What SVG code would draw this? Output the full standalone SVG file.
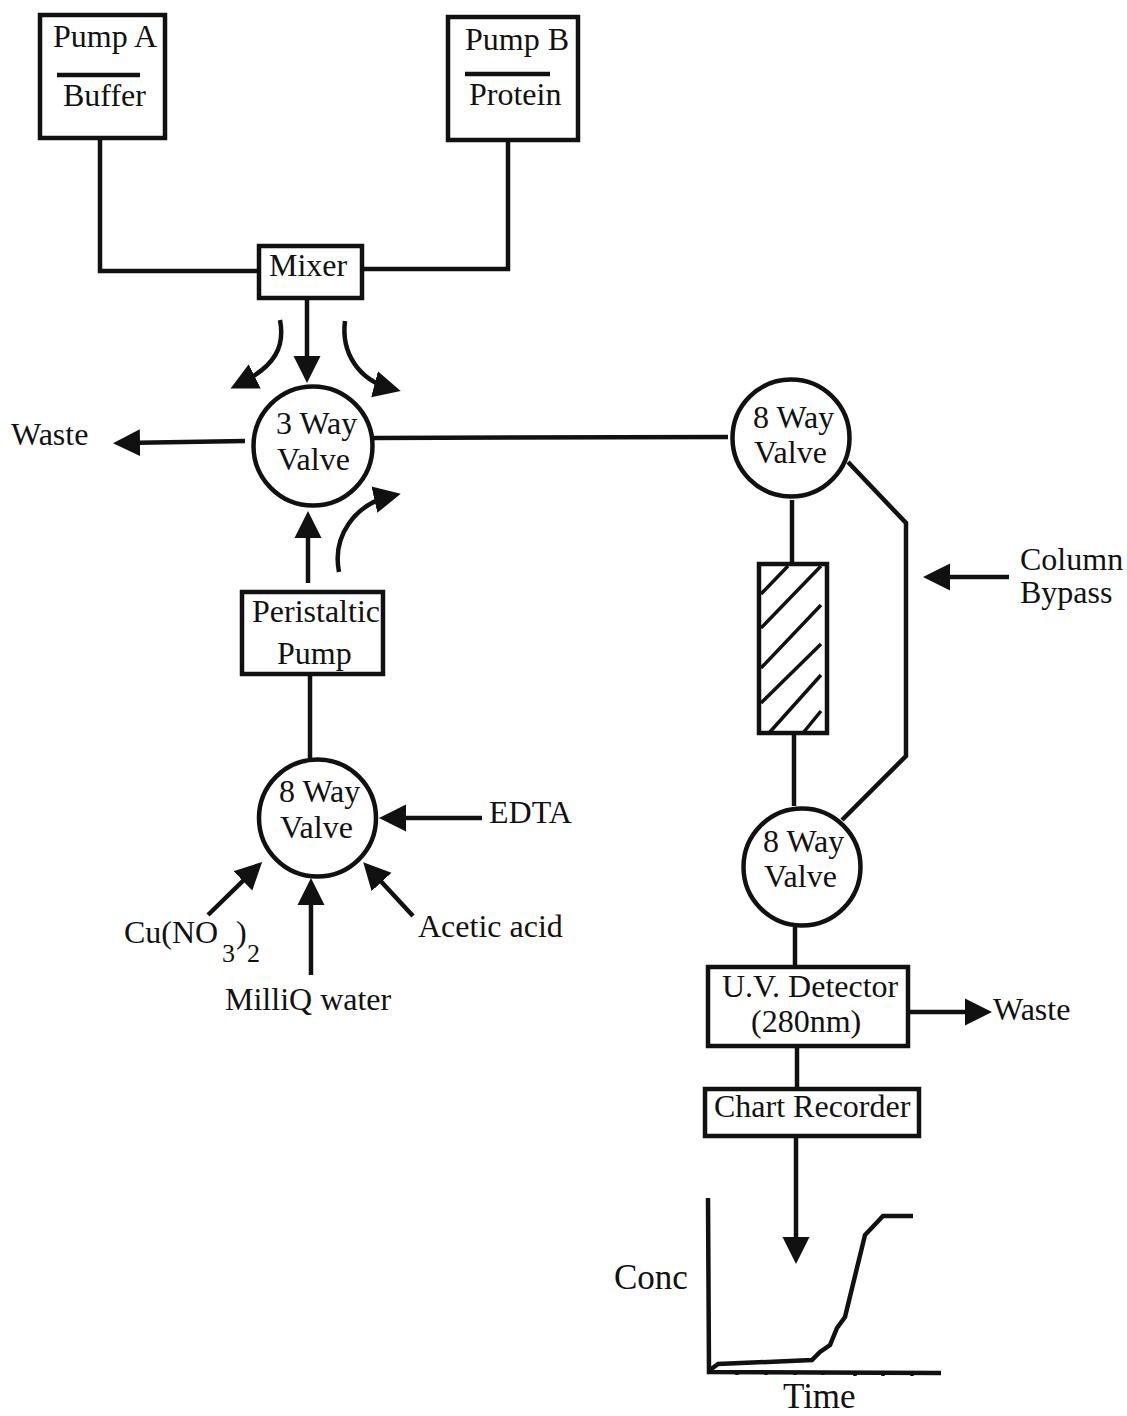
<svg xmlns="http://www.w3.org/2000/svg" width="1127" height="1416" viewBox="0 0 1127 1416">
<style>
text{font-family:"Liberation Serif","Times New Roman",serif;font-size:32px;fill:#111}
.n{fill:#fff;stroke:#111;stroke-width:4.5}
.c{fill:none;stroke:#111;stroke-width:4.5;stroke-linejoin:miter}
.a{marker-end:url(#arrow)}
.t{fill:none;stroke:#111;stroke-width:3.5}
.s{font-size:26px}
.l{font-size:35px}
</style>
<defs>
<marker id="arrow" markerUnits="userSpaceOnUse" markerWidth="30" markerHeight="30" refX="17" refY="14" orient="auto" viewBox="0 0 30 28">
<path d="M0 0.5L27 14L0 27.5Z" fill="#111"/>
</marker>
</defs>
<rect width="1127" height="1416" fill="#fff"/>
<g id="connectors">
<path class="c" d="M100 138V271H259"/>
<path class="c" d="M508 140V269H362"/>
<path class="c a" d="M307 298V373"/>
<path class="c a" d="M280 320C285 346 276 366 239.500 384"/>
<path class="c a" d="M345 321C341 352 358 380 391 388.500"/>
<path class="c a" d="M339 572C332 536 355 504 391 496"/>
<path class="c a" d="M245 441L123 443"/>
<path class="c" d="M372 438L728 437"/>
<path class="c a" d="M308 583V521"/>
<path class="c" d="M310 674V758"/>
<path class="c a" d="M482 818H389"/>
<path class="c a" d="M208 915L255 869"/>
<path class="c a" d="M311 975V888"/>
<path class="c a" d="M413 916L370 869.500"/>
<path class="c" d="M848 462L906 523V756L842 820"/>
<path class="c" d="M792 500V564"/>
<path class="c" d="M794 734V806"/>
<path class="c a" d="M1009 577H933"/>
<path class="c" d="M795 926V967"/>
<path class="c a" d="M908 1012H982"/>
<path class="c" d="M797 1046V1089"/>
<path class="c a" d="M796 1136V1254"/>
</g>
<g id="pump-a"><rect class="n" x="40" y="15" width="125" height="123"/><path class="c" d="M57 75H140"/><text x="53" y="47">Pump A</text><text x="63" y="106">Buffer</text></g>
<g id="pump-b"><rect class="n" x="448" y="17" width="130" height="123"/><path class="c" d="M465 74H550"/><text x="465" y="50">Pump B</text><text x="469" y="105">Protein</text></g>
<g id="mixer"><rect class="n" x="259" y="246" width="103" height="52"/><text x="269" y="276">Mixer</text></g>
<g id="valve-3way"><circle class="n" cx="313" cy="446" r="59.500"/><text x="276" y="434">3 Way</text><text x="277" y="470">Valve</text></g>
<g id="waste-left"><text x="11" y="445">Waste</text></g>
<g id="valve-8way-top"><circle class="n" cx="791" cy="438" r="58.500"/><text x="753" y="428">8 Way</text><text x="754" y="463">Valve</text></g>
<g id="column"><rect class="n" x="759" y="564" width="68" height="169"/>
<path class="t" d="M761 594L788 566M761 628L821 566M761 668L821 605M761 703L821 644M769 733L821 675M803 733L821 711"/></g>
<g id="column-bypass"><text x="1020" y="570">Column</text><text x="1020" y="603">Bypass</text></g>
<g id="peristaltic"><rect class="n" x="242" y="592" width="141" height="82"/><text x="252" y="622">Peristaltic</text><text x="277" y="664">Pump</text></g>
<g id="valve-8way-left"><circle class="n" cx="317.500" cy="818" r="58.500"/><text x="279" y="802">8 Way</text><text x="280" y="838">Valve</text></g>
<g id="edta"><text x="489" y="823">EDTA</text></g>
<g id="acetic"><text x="418" y="937">Acetic acid</text></g>
<g id="cu"><text x="124" y="943">Cu(NO</text><text x="222" y="962" class="s">3</text><text x="236" y="943">)</text><text x="247" y="962" class="s">2</text></g>
<g id="milliq"><text x="225" y="1010">MilliQ water</text></g>
<g id="valve-8way-low"><circle class="n" cx="802" cy="867" r="58.500"/><text x="763" y="852">8 Way</text><text x="764" y="887">Valve</text></g>
<g id="uv"><rect class="n" x="708" y="967" width="200" height="79"/><text x="722" y="997">U.V. Detector</text><text x="751" y="1032">(280nm)</text></g>
<g id="waste-right"><text x="993" y="1020">Waste</text></g>
<g id="chart"><rect class="n" x="705" y="1089" width="214" height="47"/><text x="714" y="1117">Chart Recorder</text></g>
<g id="plot">
<path class="c" d="M708 1198L709 1372L941 1373"/>
<path class="c" d="M710 1370L718 1364L812 1360L820 1352L830 1345L837 1328L845 1317L865 1235L883 1216H913"/>
<path class="t" d="M737 1372v3M766 1372v3M795 1372v3M823 1372v3M855 1373v3M883 1373v3M912 1373v3"/>
<text x="614" y="1289" class="l">Conc</text><text x="783" y="1408" class="l">Time</text>
</g>
</svg>
